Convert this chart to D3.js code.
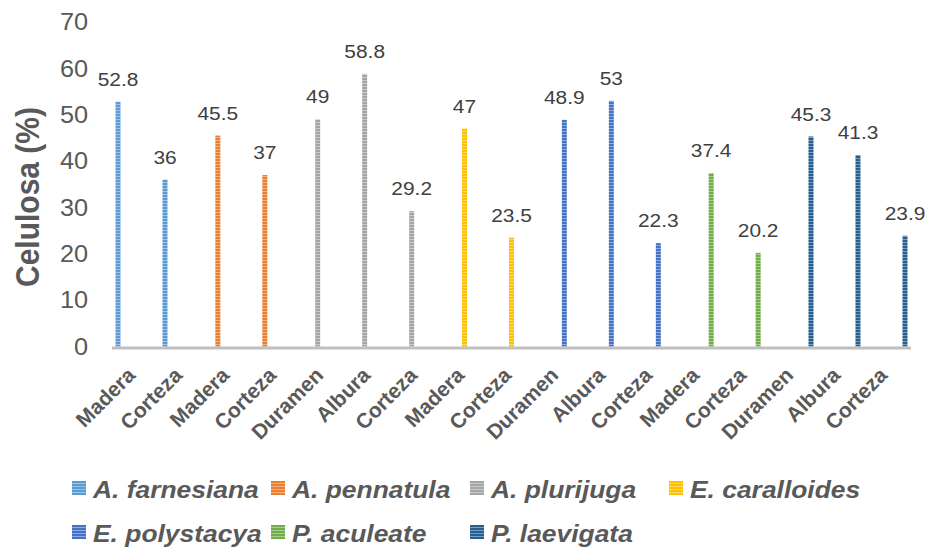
<!DOCTYPE html>
<html>
<head>
<meta charset="utf-8">
<script src="https://cdn.jsdelivr.net/npm/d3@7"></script>
<style>
  html, body { margin: 0; padding: 0; background: #fff; }
  svg { display: block; font-family: "Liberation Sans", Arial, sans-serif; }
</style>
</head>
<body>
<svg id="chart" width="928" height="547"></svg>
<script>
// Cellulose content (%) by species and tissue
const species = ["A. farnesiana", "A. pennatula", "A. plurijuga", "E. caralloides",
                 "E. polystacya", "P. aculeate", "P. laevigata"];
const colors = ["#5B9BD5", "#ED7D31", "#A5A5A5", "#FFC000", "#4472C4", "#70AD47", "#255E91"];

const tissues = ["Madera", "Corteza", "Madera", "Corteza", "Duramen", "Albura", "Corteza",
                 "Madera", "Corteza", "Duramen", "Albura", "Corteza", "Madera", "Corteza",
                 "Duramen", "Albura", "Corteza"];
const tissueSpecies = ["A. farnesiana", "A. farnesiana", "A. pennatula", "A. pennatula",
                       "A. plurijuga", "A. plurijuga", "A. plurijuga", "E. caralloides",
                       "E. caralloides", "E. polystacya", "E. polystacya", "E. polystacya",
                       "P. aculeate", "P. aculeate", "P. laevigata", "P. laevigata", "P. laevigata"];
const celulosa = [52.8, 36, 45.5, 37, 49, 58.8, 29.2, 47, 23.5, 48.9, 53, 22.3, 37.4, 20.2,
                  45.3, 41.3, 23.9];
const yTicks = [0, 10, 20, 30, 40, 50, 60, 70];

const svg = d3.select("#chart");
const SX = 1.1; // horizontal glyph stretch

const plot = { left: 112, right: 911, top: 22, bottom: 346.5 };

const x0 = d3.scaleBand()
  .domain(d3.range(tissues.length))
  .range([plot.left, plot.right])
  .padding(0);

const x1 = d3.scaleBand()
  .domain(species)
  .range([0, x0.bandwidth()])
  .paddingInner(0.14)
  .paddingOuter(0.6);

const y = d3.scaleLinear().domain([0, 70]).range([plot.bottom, plot.top]);
const color = d3.scaleOrdinal().domain(species).range(colors);

// striped fills
const defs = svg.append("defs");
species.forEach((s, i) => {
  const c = color(s);
  const p = defs.append("pattern")
    .attr("id", "pat" + i)
    .attr("patternUnits", "userSpaceOnUse")
    .attr("width", 6).attr("height", 3);
  p.append("rect").attr("width", 6).attr("height", 3)
    .attr("fill", d3.interpolateRgb(c, "#ffffff")(0.4));
  p.append("rect").attr("width", 6).attr("height", 2).attr("fill", c);
});
const fillOf = s => `url(#pat${species.indexOf(s)})`;

const rows = tissues.map((t, i) => ({ i, t, s: tissueSpecies[i], v: celulosa[i] }));

// bars
const barW = 5;
svg.append("g").selectAll("rect")
  .data(rows)
  .join("rect")
  .attr("x", d => x0(d.i) + x1(d.s) + x1.bandwidth() / 2 - barW / 2)
  .attr("y", d => y(d.v))
  .attr("width", barW)
  .attr("height", d => y(0) - y(d.v))
  .attr("fill", d => fillOf(d.s));

// value labels
svg.append("g").selectAll("text")
  .data(rows)
  .join("text")
  .attr("transform", d => `translate(${x0(d.i) + x1(d.s) + x1.bandwidth() / 2},${y(d.v) - 16}) scale(${SX},1)`)
  .attr("text-anchor", "middle")
  .attr("font-size", 19)
  .attr("fill", "#404040")
  .text(d => d.v);

// category axis line
svg.append("line")
  .attr("x1", plot.left).attr("x2", plot.right)
  .attr("y1", y(0) + 1.5).attr("y2", y(0) + 1.5)
  .attr("stroke", "#BFBFBF").attr("stroke-width", 3);

// category labels
svg.append("g").selectAll("text")
  .data(rows)
  .join("text")
  .attr("transform", d => `translate(${x0(d.i) + x0.bandwidth() / 2 + 1},${y(0) + 30}) rotate(-45)`)
  .attr("text-anchor", "end")
  .attr("font-size", 21)
  .attr("font-weight", "bold")
  .attr("fill", "#595959")
  .text(d => d.t);

// value axis tick labels
svg.append("g").selectAll("text")
  .data(yTicks)
  .join("text")
  .attr("transform", d => `translate(88,${y(d)}) scale(${SX},1)`)
  .attr("text-anchor", "end")
  .attr("dy", "0.36em")
  .attr("font-size", 23)
  .attr("fill", "#595959")
  .text(d => d);

// value axis title
svg.append("text")
  .attr("transform", `translate(39,197) scale(${SX},1) rotate(-90)`)
  .attr("text-anchor", "middle")
  .attr("font-size", 30)
  .attr("font-weight", "bold")
  .attr("fill", "#595959")
  .text("Celulosa (%)");

// legend
const legend = svg.append("g").selectAll("g")
  .data(species)
  .join("g")
  .attr("transform", (d, i) => `translate(${72 + (i % 4) * 199},${481 + Math.floor(i / 4) * 44})`);
legend.append("rect")
  .attr("width", 14).attr("height", 14)
  .attr("fill", d => fillOf(d));
legend.append("text")
  .attr("transform", `translate(21,16.5) scale(${SX},1)`)
  .attr("font-size", 24)
  .attr("font-weight", "bold")
  .attr("font-style", "italic")
  .attr("fill", "#595959")
  .text(d => d);
</script>
</body>
</html>
